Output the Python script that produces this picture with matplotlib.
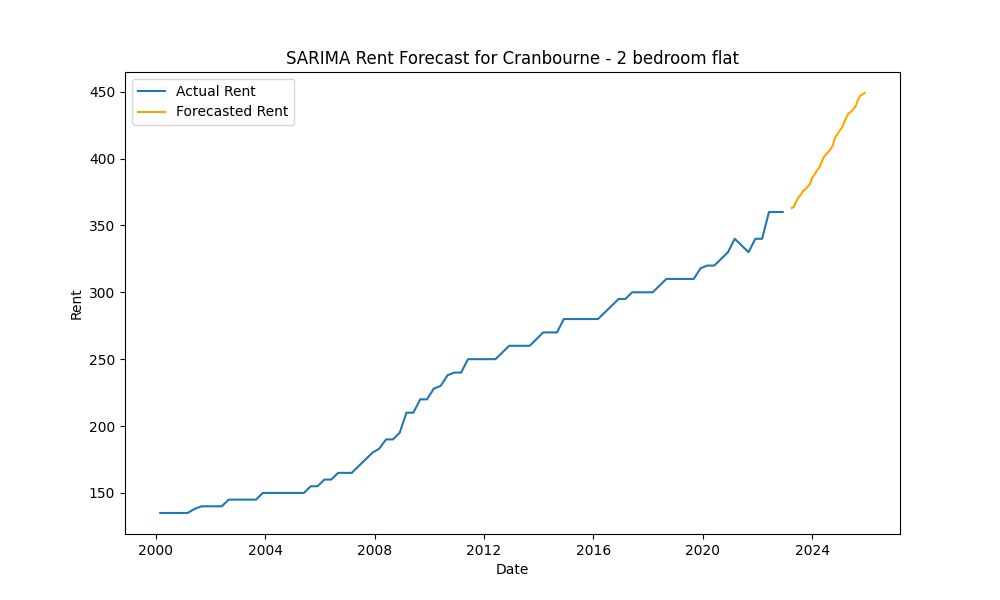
import pandas as pd
import matplotlib
matplotlib.use("Agg")
import matplotlib.pyplot as plt

# quarterly actual rent, Mar 2000 - Dec 2022
actual_rent = [
    135, 135, 135, 135,
    135, 138, 140, 140,
    140, 140, 145, 145,
    145, 145, 145, 150,
    150, 150, 150, 150,
    150, 150, 155, 155,
    160, 160, 165, 165,
    165, 170, 175, 180,
    183, 190, 190, 195,
    210, 210, 220, 220,
    228, 230, 238, 240,
    240, 250, 250, 250,
    250, 250, 255, 260,
    260, 260, 260, 265,
    270, 270, 270, 280,
    280, 280, 280, 280,
    280, 285, 290, 295,
    295, 300, 300, 300,
    300, 305, 310, 310,
    310, 310, 310, 318,
    320, 320, 325, 330,
    340, 335, 330, 340,
    340, 360, 360, 360,
]
actual_dates = pd.date_range("2000-03-01", periods=len(actual_rent), freq="3MS")

# monthly forecast, Apr 2023 onwards
forecast_rent = [
    363, 364, 368, 371, 373, 376, 377, 379, 381, 386, 388, 391,
    393, 397, 401, 403, 405, 407, 410, 416, 418, 421, 423, 427,
    431, 434, 435, 437, 439, 444, 447, 448, 449,
]
forecast_dates = pd.date_range("2023-04-01", periods=len(forecast_rent), freq="MS")

plt.figure(figsize=(10, 6))
plt.plot(actual_dates, actual_rent, label="Actual Rent")
plt.plot(forecast_dates, forecast_rent, label="Forecasted Rent", color="orange")
plt.xlabel("Date")
plt.ylabel("Rent")
plt.title("SARIMA Rent Forecast for Cranbourne - 2 bedroom flat")
plt.legend(loc="upper left")
plt.savefig("out.png", dpi=100)
